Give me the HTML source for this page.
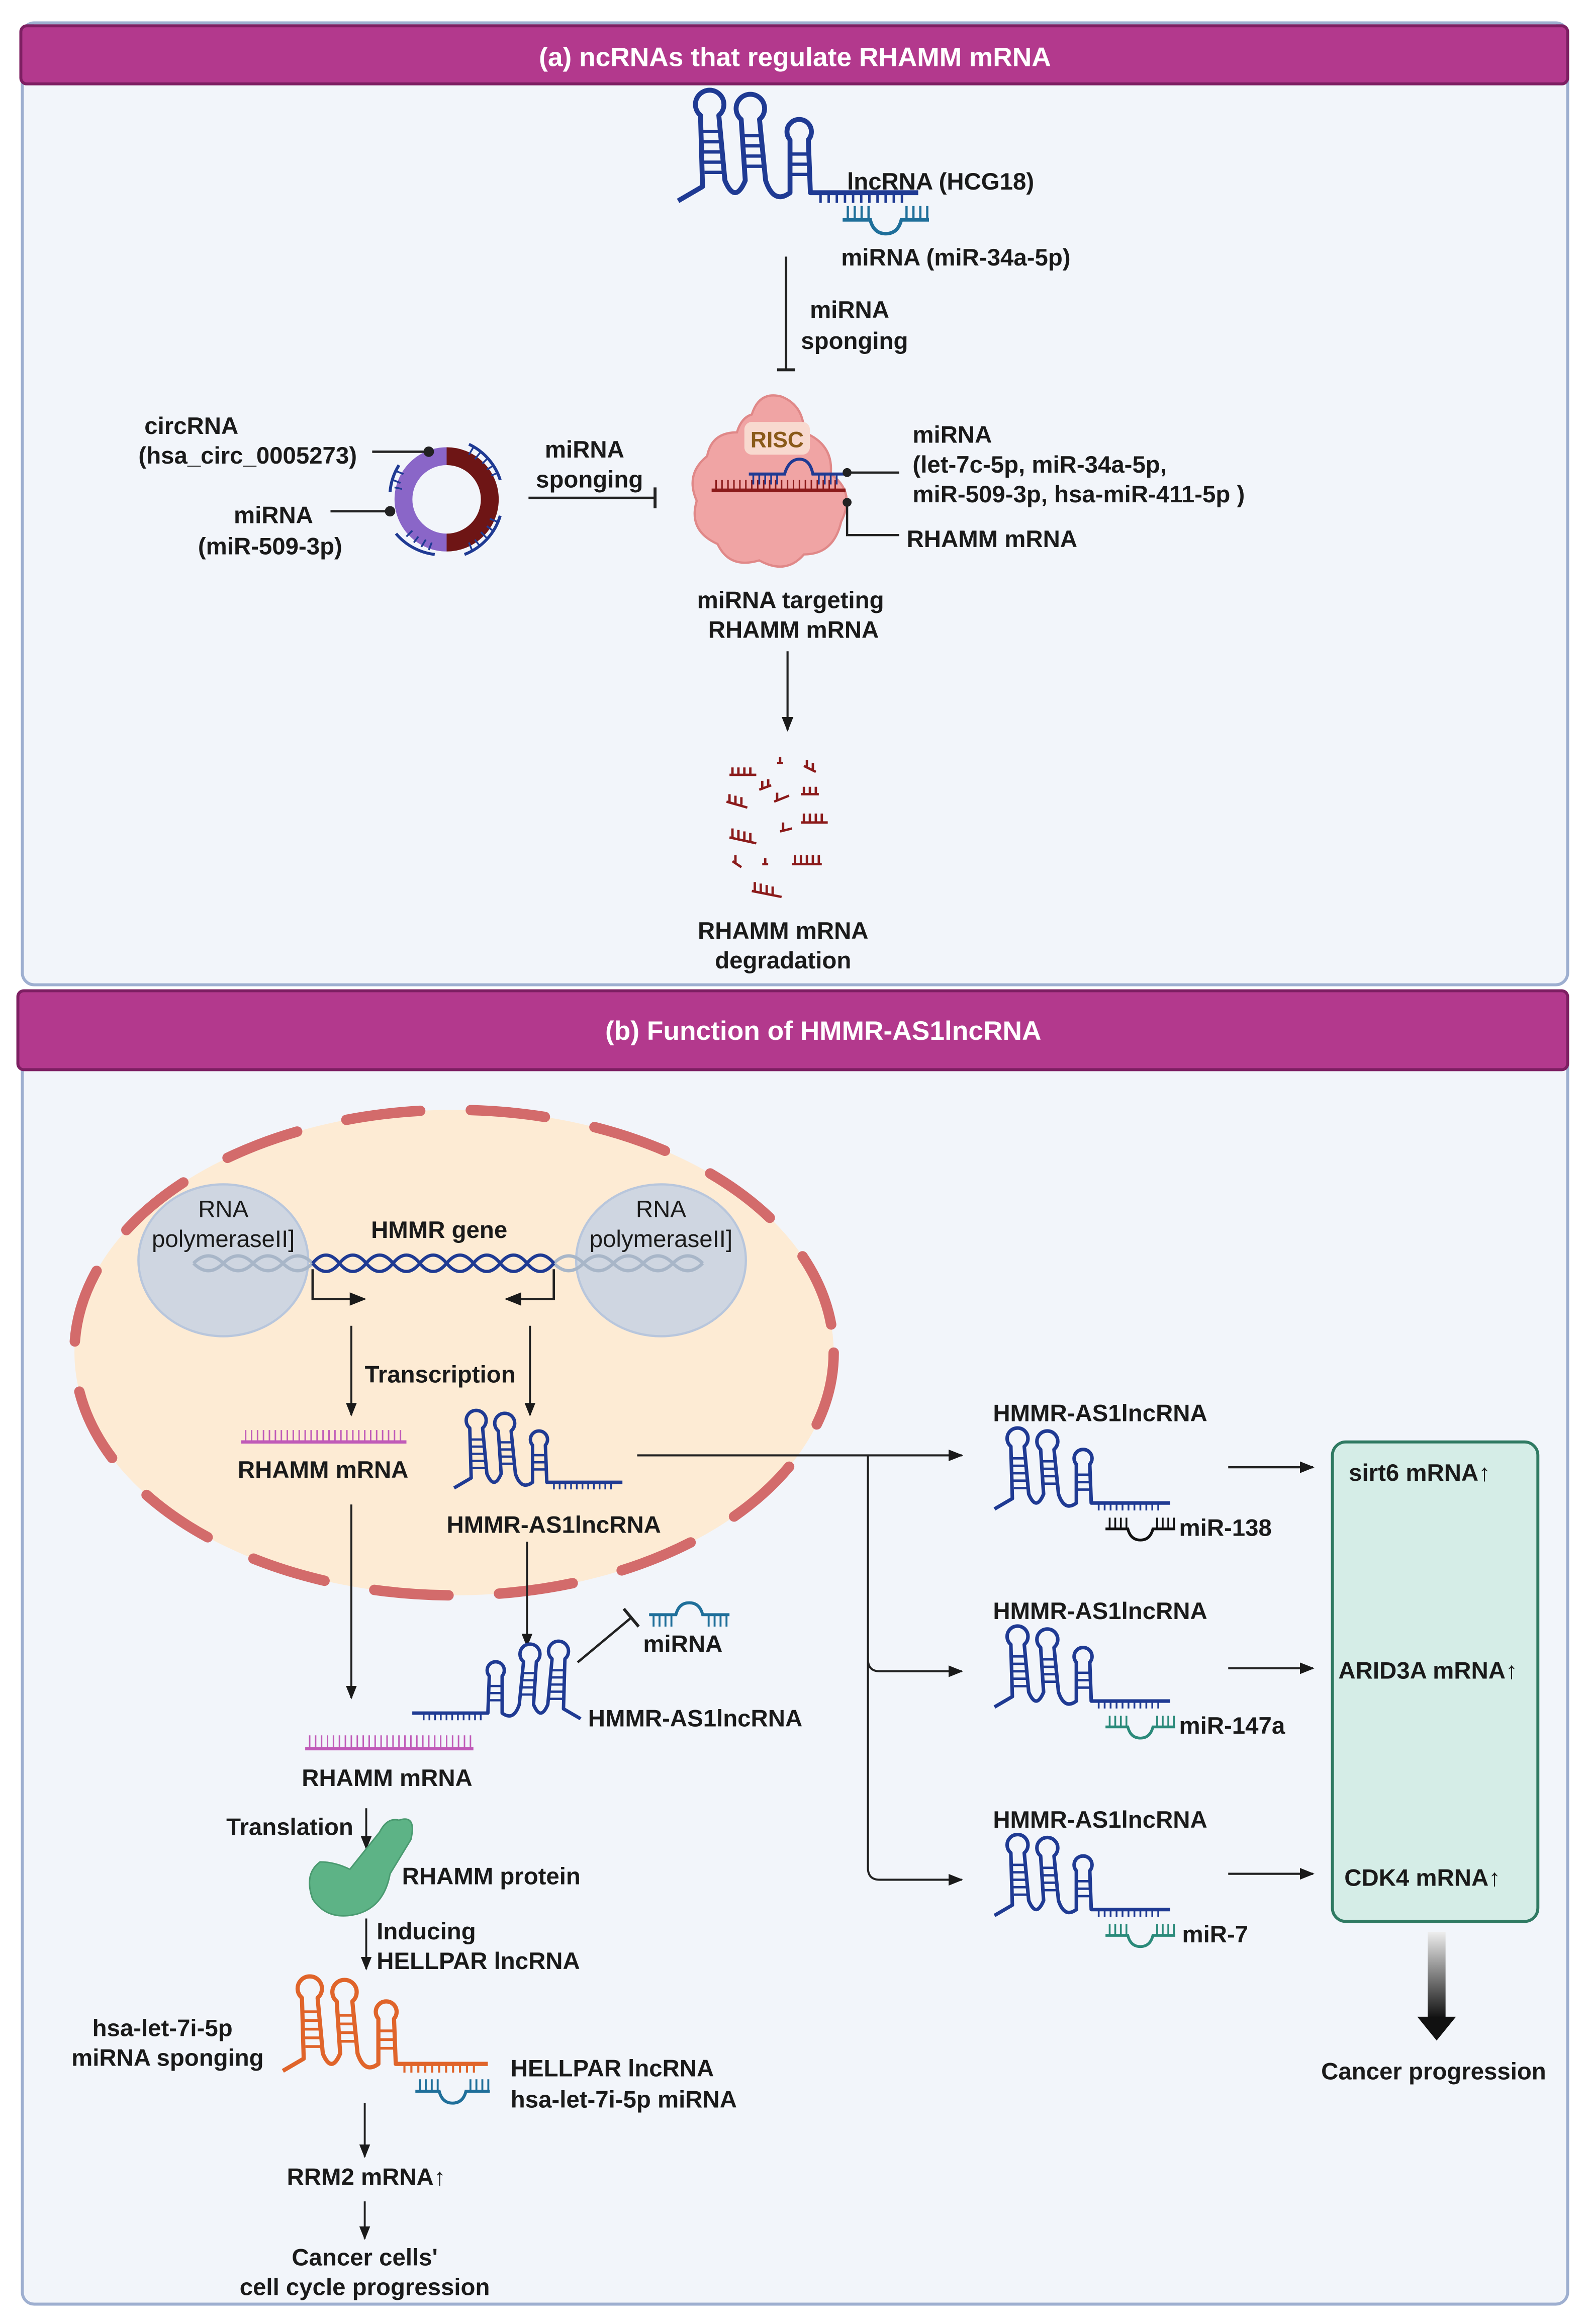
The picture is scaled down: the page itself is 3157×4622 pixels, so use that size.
<!DOCTYPE html>
<html><head><meta charset="utf-8"><style>
html,body{margin:0;padding:0;background:#fff;}
svg{display:block}
text{font-family:"Liberation Sans",sans-serif;font-weight:bold;font-size:16px;fill:#1a1a1a}
.n{font-weight:normal}
.c{text-anchor:middle}
</style></head><body>
<svg width="3157" height="4622" viewBox="0 0 1066 1560" xmlns="http://www.w3.org/2000/svg">
<defs>
<marker id="ar" viewBox="0 0 10 10" refX="9" refY="5" markerWidth="7" markerHeight="7" orient="auto"><path d="M0,1 L10,5 L0,9 z" fill="#1a1a1a"/></marker>
<linearGradient id="gg" x1="0" y1="0" x2="0" y2="1"><stop offset="0" stop-color="#eee"/><stop offset="1" stop-color="#111"/></linearGradient>
<symbol id="hp" viewBox="0 0 120 60" overflow="visible">
<g fill="none" stroke="currentColor" stroke-width="2.4" stroke-linejoin="round">
<path d="M0,56 L12,49 L11,14 A7,7 0 1 1 20,14 L23,46 Q28,58 33,46 L31,16 A7,7 0 1 1 40,16 L43,46 Q47,58 55,52 L55,26 A6,6 0 1 1 64,26 L65,52 L118,52"/>
<path d="M11.5,22H20.5M12,27H21M12,32H21.5M12.5,37H22M13,42H22.5M31.5,24H40.5M32,29H41M32,34H42M32.5,39H42.5M55,33H64M55,38H64M55,43H64" stroke-width="1.6"/>
<path d="M70,52V57M74,52V57M78,52V57M82,52V57M86,52V57M90,52V57M94,52V57M98,52V57M102,52V57M106,52V57M110,52V57" stroke-width="1.2"/>
</g></symbol>
<symbol id="mi" viewBox="0 0 50 16" overflow="visible">
<g fill="none" stroke="currentColor" stroke-width="2">
<path d="M0,10 H16 Q18,18 25,18 Q32,18 34,10 H50"/>
<path d="M3,10V2M7,10V2M11,10V2M15,10V2M37,10V2M41,10V2M45,10V2M49,10V2" stroke-width="1.3"/>
</g></symbol>
</defs>

<!-- Panel A -->
<rect x="15" y="15" width="1038" height="646" rx="8" fill="#f2f5fa" stroke="#9eafd0" stroke-width="2"/>
<rect x="14" y="17" width="1039" height="39" rx="4" fill="#b3398d" stroke="#7d1f62" stroke-width="2"/>
<text x="534" y="44" class="c" style="fill:#fff;font-size:18px">(a) ncRNAs that regulate RHAMM mRNA</text>

<use href="#hp" x="455" y="58" width="165" height="82" style="color:#1f3a93"/>
<use href="#mi" x="566" y="135" width="58" height="20" style="color:#1f6f9a"/>
<text x="569" y="127">lncRNA (HCG18)</text>
<text x="565" y="178">miRNA (miR-34a-5p)</text>
<line x1="528" y1="172" x2="528" y2="248" stroke="#222" stroke-width="1.6"/>
<line x1="522" y1="248" x2="534" y2="248" stroke="#222" stroke-width="2"/>
<text x="544" y="213">miRNA</text>
<text x="538" y="234">sponging</text>

<g fill="#f0a4a4" stroke="#e08888" stroke-width="1.5">
<path d="M505,278 Q510,262 525,266 Q540,272 540,290 Q560,298 558,318 Q575,330 565,350 Q560,372 540,372 Q528,386 510,376 Q490,382 482,365 Q462,356 468,336 Q460,318 475,306 Q478,290 495,290 Q498,280 505,278 Z"/>
</g>
<rect x="500" y="283" width="44" height="22" rx="5" fill="#f8d9cf"/>
<text x="522" y="300" class="c" style="fill:#8a5a1a;font-size:15px">RISC</text>
<line x1="478" y1="329" x2="568" y2="329" stroke="#8b1a1a" stroke-width="2.5"/>
<path d="M481,329V322M485,329V322M489,329V322M493,329V322M497,329V322M501,329V322M505,329V322M509,329V322M513,329V322M517,329V322M521,329V322M525,329V322M529,329V322M533,329V322M537,329V322M541,329V322M545,329V322M549,329V322M553,329V322M557,329V322M561,329V322" stroke="#8b1a1a" stroke-width="1"/>
<path d="M503,318 H527 Q530,308 537,308 Q544,308 546,318 H567" fill="none" stroke="#1f3a93" stroke-width="2"/>
<path d="M506,318V325M510,318V325M514,318V325M518,318V325M522,318V325M550,318V325M554,318V325M558,318V325M562,318V325" stroke="#1f3a93" stroke-width="1.2"/>
<circle cx="569" cy="317" r="3" fill="#222"/><line x1="569" y1="317" x2="604" y2="317" stroke="#222" stroke-width="1.5"/>
<circle cx="569" cy="337" r="3" fill="#222"/><path d="M569,337 V359 H604" fill="none" stroke="#222" stroke-width="1.5"/>
<text x="613" y="297">miRNA</text>
<text x="613" y="317">(let-7c-5p, miR-34a-5p,</text>
<text x="613" y="337">miR-509-3p, hsa-miR-411-5p  )</text>
<text x="609" y="367">RHAMM mRNA</text>

<path d="M300,306 A29,29 0 0 0 300,364" fill="none" stroke="#8a66c8" stroke-width="12"/>
<path d="M300,306 A29,29 0 0 1 300,364" fill="none" stroke="#6e1515" stroke-width="12"/>
<path d="M315,298 A40,40 0 0 1 336,322 M336,346 A40,40 0 0 1 312,372 M292,372 A40,40 0 0 1 266,358 M262,330 A40,40 0 0 1 268,312" fill="none" stroke="#1f3a93" stroke-width="2"/>
<path d="M318,300l-3,5M323,303l-4,5M328,307l-4,4M332,312l-5,3M335,317l-5,2M334,350l-5,-2M331,356l-4,-3M327,361l-4,-4M322,366l-3,-4M317,369l-2,-5M288,369l2,-5M283,367l3,-5M278,364l3,-4M273,360l4,-4M265,327l5,1M264,322l5,2M266,316l5,2" stroke="#1f3a93" stroke-width="1.2"/>
<circle cx="288" cy="303" r="3.5" fill="#222"/><line x1="250" y1="303" x2="288" y2="303" stroke="#222" stroke-width="1.6"/>
<circle cx="262" cy="343" r="3.5" fill="#222"/><line x1="222" y1="343" x2="262" y2="343" stroke="#222" stroke-width="1.6"/>
<text x="97" y="291">circRNA</text>
<text x="93" y="311">(hsa_circ_0005273)</text>
<text x="157" y="351">miRNA</text>
<text x="133" y="372">(miR-509-3p)</text>
<text x="366" y="307">miRNA</text>
<text x="360" y="327">sponging</text>
<line x1="355" y1="334" x2="440" y2="334" stroke="#222" stroke-width="1.6"/>
<line x1="440" y1="327" x2="440" y2="341" stroke="#222" stroke-width="2"/>

<text x="531" y="408" class="c">miRNA targeting</text>
<text x="533" y="428" class="c">RHAMM mRNA</text>
<line x1="529" y1="437" x2="529" y2="490" stroke="#222" stroke-width="1.4" marker-end="url(#ar)"/>
<g stroke="#8b1a1a" stroke-width="1.6" fill="none">
<path d="M490,520h18M492,520v-5M496,520v-5M500,520v-5M504,520v-5"/>
<path d="M488,538l14,4M490,538v-5M494,539v-5M498,540v-5"/>
<path d="M510,530l8,-3M512,529v-5M516,528v-5"/>
<path d="M522,512h4M524,512v-4"/><path d="M540,514l8,4M542,515v-5M546,517v-5"/>
<path d="M520,538l10,-4M522,537v-5"/><path d="M538,533h12M540,533v-5M544,533v-5M548,533v-5"/>
<path d="M490,562l18,4M492,562v-6M496,563v-6M500,564v-6M504,565v-6"/>
<path d="M524,558l8,-2M526,557v-5"/><path d="M538,552h18M540,552v-6M544,552v-6M548,552v-6M552,552v-6"/>
<path d="M492,578l6,4M494,579v-5"/><path d="M512,580h4M514,580v-4"/>
<path d="M532,580h20M534,580v-6M538,580v-6M542,580v-6M546,580v-6M550,580v-6"/>
<path d="M505,598l20,4M507,598v-6M511,599v-6M515,600v-6M519,601v-6"/>
</g>
<text x="526" y="630" class="c">RHAMM mRNA</text>
<text x="526" y="650" class="c">degradation</text>

<!-- Panel B -->
<rect x="15" y="665" width="1038" height="882" rx="8" fill="#f2f5fa" stroke="#9eafd0" stroke-width="2"/>
<rect x="12" y="665" width="1041" height="53" rx="4" fill="#b3398d" stroke="#7d1f62" stroke-width="2"/>
<text x="553" y="698" class="c" style="fill:#fff;font-size:18px">(b) Function of HMMR-AS1lncRNA</text>

<ellipse cx="305" cy="908" rx="255" ry="163" fill="#fdebd4" stroke="#d36b6b" stroke-width="7" stroke-dasharray="50,34" stroke-linecap="round"/>
<ellipse cx="150" cy="846" rx="57" ry="51" fill="#cfd6e1" stroke="#b8c6dc" stroke-width="1.5"/>
<ellipse cx="444" cy="846" rx="57" ry="51" fill="#cfd6e1" stroke="#b8c6dc" stroke-width="1.5"/>
<text x="150" y="817" class="c n">RNA</text>
<text x="150" y="837" class="c n">polymeraseII]</text>
<text x="444" y="817" class="c n">RNA</text>
<text x="444" y="837" class="c n">polymeraseII]</text>
<text x="295" y="831" class="c">HMMR gene</text>
<g fill="none" stroke-width="2.2">
<path d="M130,848 q10,-10 20,0 t20,0 t20,0 t20,0 M130,848 q10,10 20,0 t20,0 t20,0 t20,0" stroke="#a8b6c8"/>
<path d="M372,848 q10,-10 20,0 t20,0 t20,0 t20,0 t20,0 M372,848 q10,10 20,0 t20,0 t20,0 t20,0 t20,0" stroke="#a8b6c8"/>
<path d="M210,848 q9,-11 18,0 t18,0 t18,0 t18,0 t18,0 t18,0 t18,0 t18,0 t18,0 M210,848 q9,11 18,0 t18,0 t18,0 t18,0 t18,0 t18,0 t18,0 t18,0 t18,0" stroke="#1f3a93"/>
</g>
<path d="M210,852 V872 H245" fill="none" stroke="#222" stroke-width="1.6" marker-end="url(#ar)"/>
<path d="M372,852 V872 H340" fill="none" stroke="#222" stroke-width="1.6" marker-end="url(#ar)"/>
<line x1="236" y1="890" x2="236" y2="950" stroke="#222" stroke-width="1.3" marker-end="url(#ar)"/>
<line x1="356" y1="890" x2="356" y2="950" stroke="#222" stroke-width="1.3" marker-end="url(#ar)"/>
<text x="245" y="928">Transcription</text>
<line x1="162" y1="968" x2="273" y2="968" stroke="#c05ab8" stroke-width="2.2"/>
<path d="M165,968v-8M169,968v-8M173,968v-8M177,968v-8M181,968v-8M185,968v-8M189,968v-8M193,968v-8M197,968v-8M201,968v-8M205,968v-8M209,968v-8M213,968v-8M217,968v-8M221,968v-8M225,968v-8M229,968v-8M233,968v-8M237,968v-8M241,968v-8M245,968v-8M249,968v-8M253,968v-8M257,968v-8M261,968v-8M265,968v-8M269,968v-8" stroke="#c05ab8" stroke-width="1"/>
<text x="217" y="992" class="c">RHAMM mRNA</text>
<use href="#hp" x="305" y="945" width="115" height="58" style="color:#1f3a93"/>
<text x="372" y="1029" class="c">HMMR-AS1lncRNA</text>

<path d="M428,977 H646" fill="none" stroke="#222" stroke-width="1.4" marker-end="url(#ar)"/>
<path d="M583,977 V1114 Q583,1122 591,1122 H646" fill="none" stroke="#222" stroke-width="1.4" marker-end="url(#ar)"/>
<path d="M583,1110 V1254 Q583,1262 591,1262 H646" fill="none" stroke="#222" stroke-width="1.4" marker-end="url(#ar)"/>

<text x="667" y="954">HMMR-AS1lncRNA</text>
<use href="#hp" x="668" y="957" width="120" height="60" style="color:#1f3a93"/>
<use href="#mi" x="742" y="1017" width="48" height="15" style="color:#111"/>
<text x="792" y="1031">miR-138</text>
<text x="667" y="1087">HMMR-AS1lncRNA</text>
<use href="#hp" x="668" y="1090" width="120" height="60" style="color:#1f3a93"/>
<use href="#mi" x="742" y="1150" width="48" height="15" style="color:#2a8a7a"/>
<text x="792" y="1164">miR-147a</text>
<text x="667" y="1227">HMMR-AS1lncRNA</text>
<use href="#hp" x="668" y="1230" width="120" height="60" style="color:#1f3a93"/>
<use href="#mi" x="742" y="1290" width="48" height="15" style="color:#2a8a7a"/>
<text x="794" y="1304">miR-7</text>

<line x1="825" y1="985" x2="882" y2="985" stroke="#222" stroke-width="1.4" marker-end="url(#ar)"/>
<line x1="825" y1="1120" x2="882" y2="1120" stroke="#222" stroke-width="1.4" marker-end="url(#ar)"/>
<line x1="825" y1="1258" x2="882" y2="1258" stroke="#222" stroke-width="1.4" marker-end="url(#ar)"/>
<rect x="895" y="968" width="138" height="322" rx="9" fill="#d5ede7" stroke="#2f7a62" stroke-width="2"/>
<text x="906" y="994">sirt6 mRNA↑</text>
<text x="899" y="1127">ARID3A mRNA↑</text>
<text x="903" y="1266">CDK4 mRNA↑</text>
<rect x="959" y="1297" width="12" height="58" fill="url(#gg)"/>
<path d="M952,1354 H978 L965,1370 Z" fill="#111"/>
<text x="963" y="1396" class="c">Cancer progression</text>

<line x1="236" y1="1010" x2="236" y2="1140" stroke="#222" stroke-width="1.3" marker-end="url(#ar)"/>
<line x1="354" y1="1035" x2="354" y2="1105" stroke="#222" stroke-width="1.3" marker-end="url(#ar)"/>
<g transform="translate(390,1100) scale(-1,1)"><use href="#hp" x="0" y="0" width="115" height="58" style="color:#1f3a93"/></g>
<text x="395" y="1159">HMMR-AS1lncRNA</text>
<line x1="388" y1="1116" x2="424" y2="1086" stroke="#222" stroke-width="1.6"/>
<line x1="419" y1="1080" x2="429" y2="1092" stroke="#222" stroke-width="2"/>
<g transform="translate(436,1076)"><path d="M0,8 H18 Q20,0 27,0 Q34,0 36,8 H54" fill="none" stroke="#1f6f9a" stroke-width="2"/><path d="M3,8v8M7,8v8M11,8v8M15,8v8M40,8v8M44,8v8M48,8v8M52,8v8" stroke="#1f6f9a" stroke-width="1.3"/></g>
<text x="432" y="1109">miRNA</text>
<line x1="205" y1="1174" x2="318" y2="1174" stroke="#c05ab8" stroke-width="2.2"/>
<path d="M208,1174v-9M212,1174v-9M216,1174v-9M220,1174v-9M224,1174v-9M228,1174v-9M232,1174v-9M236,1174v-9M240,1174v-9M244,1174v-9M248,1174v-9M252,1174v-9M256,1174v-9M260,1174v-9M264,1174v-9M268,1174v-9M272,1174v-9M276,1174v-9M280,1174v-9M284,1174v-9M288,1174v-9M292,1174v-9M296,1174v-9M300,1174v-9M304,1174v-9M308,1174v-9M312,1174v-9M316,1174v-9" stroke="#c05ab8" stroke-width="1"/>
<text x="260" y="1199" class="c">RHAMM mRNA</text>
<text x="152" y="1232">Translation</text>
<line x1="246" y1="1214" x2="246" y2="1241" stroke="#222" stroke-width="1.3" marker-end="url(#ar)"/>
<path d="M268,1222 Q280,1218 276,1235 L262,1258 Q258,1280 240,1285 Q220,1290 210,1275 Q204,1258 215,1250 Q225,1250 235,1255 L255,1230 Q260,1220 268,1222 Z" fill="#5db386" stroke="#4a9a70" stroke-width="1"/>
<text x="270" y="1265">RHAMM protein</text>
<line x1="246" y1="1288" x2="246" y2="1322" stroke="#222" stroke-width="1.3" marker-end="url(#ar)"/>
<text x="253" y="1302">Inducing</text>
<text x="253" y="1322">HELLPAR lncRNA</text>
<use href="#hp" x="190" y="1325" width="140" height="70" style="color:#e0642a"/>
<use href="#mi" x="279" y="1394" width="50" height="16" style="color:#1f6f9a"/>
<text x="62" y="1367">hsa-let-7i-5p</text>
<text x="48" y="1387">miRNA  sponging</text>
<text x="343" y="1394">HELLPAR lncRNA</text>
<text x="343" y="1415">hsa-let-7i-5p miRNA</text>
<line x1="245" y1="1412" x2="245" y2="1448" stroke="#222" stroke-width="1.3" marker-end="url(#ar)"/>
<text x="246" y="1467" class="c">RRM2 mRNA↑</text>
<line x1="245" y1="1478" x2="245" y2="1503" stroke="#222" stroke-width="1.3" marker-end="url(#ar)"/>
<text x="245" y="1521" class="c">Cancer cells'</text>
<text x="245" y="1541" class="c">cell cycle progression</text>
</svg>
</body></html>
